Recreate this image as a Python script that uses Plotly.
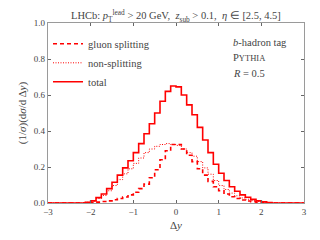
import numpy as np
import plotly.graph_objects as go

# bin edges: 48 bins of width 0.125 from -3 to 3
bin_lo, bin_hi, n_bins = -3.0, 3.0, 48

total = [0, 0, 0, 0, 0, 0, 0, 0.004, 0.012, 0.03, 0.05, 0.08, 0.115, 0.155, 0.195, 0.235,
         0.28, 0.33, 0.385, 0.44, 0.50, 0.565, 0.62, 0.65, 0.645, 0.60, 0.545, 0.49, 0.42, 0.35,
         0.28, 0.215, 0.165, 0.125, 0.09, 0.065, 0.045, 0.032, 0.02, 0.012, 0.006, 0.003,
         0, 0, 0, 0, 0, 0]
gluon = [0, 0, 0, 0, 0, 0, 0, 0, 0.002, 0.005, 0.008, 0.012, 0.018, 0.025, 0.033, 0.045,
         0.06, 0.08, 0.105, 0.14, 0.185, 0.24, 0.29, 0.325, 0.325, 0.30, 0.265, 0.23, 0.19, 0.155,
         0.12, 0.09, 0.068, 0.05, 0.035, 0.025, 0.017, 0.011, 0.007, 0.004, 0.002, 0.001,
         0, 0, 0, 0, 0, 0]
nonsplit = [0, 0, 0, 0, 0, 0, 0, 0.004, 0.01, 0.025, 0.042, 0.068, 0.097, 0.13, 0.162, 0.19,
            0.22, 0.25, 0.28, 0.30, 0.315, 0.325, 0.33, 0.325, 0.32, 0.30, 0.28, 0.26, 0.23, 0.195,
            0.16, 0.125, 0.097, 0.075, 0.055, 0.04, 0.028, 0.021, 0.013, 0.008, 0.004, 0.002,
            0, 0, 0, 0, 0, 0]

x_ticks = [-3, -2, -1, 0, 1, 2, 3]
x_tick_text = ["\u22123", "\u22122", "\u22121", "0", "1", "2", "3"]
y_ticks = [0.0, 0.2, 0.4, 0.6, 0.8, 1.0]
y_tick_text = ["0.0", "0.2", "0.4", "0.6", "0.8", "1.0"]

edges = np.linspace(bin_lo, bin_hi, n_bins + 1)

def steps(vals):
    return list(vals) + [vals[-1]]

RED = "#ff0000"
FONT = "Liberation Serif"
GRAY = "#9a9a9a"
TXT = "#444"

fig = go.Figure()
fig.add_trace(go.Scatter(x=edges, y=steps(gluon), mode="lines", line_shape="hv",
                         line=dict(color=RED, width=1.6, dash="4px,3px"), name="gluon splitting"))
fig.add_trace(go.Scatter(x=edges, y=steps(nonsplit), mode="lines", line_shape="hv",
                         line=dict(color=RED, width=1.0, dash="1px,1.5px"), name="non-splitting"))
fig.add_trace(go.Scatter(x=edges, y=steps(total), mode="lines", line_shape="hv",
                         line=dict(color=RED, width=1.6), name="total"))

axis_common = dict(showline=True, linecolor=GRAY, linewidth=1.2, mirror="ticks",
                   ticks="inside", ticklen=3, tickcolor="#666", showgrid=False, zeroline=False,
                   automargin=False,
                   tickfont=dict(family=FONT, size=9, color=TXT))

fig.update_xaxes(range=[-3, 3], tickvals=x_ticks, ticktext=x_tick_text,
                 title=dict(text="\u0394<i>y</i>", font=dict(family=FONT, size=11, color=TXT),
                            standoff=5), **axis_common)
fig.update_yaxes(range=[0, 1.0], tickvals=y_ticks, ticktext=y_tick_text,
                 title=dict(text="(1/<i>\u03c3</i>)(d<i>\u03c3</i>/d\u2009\u0394<i>y</i>)",
                            font=dict(family=FONT, size=11, color=TXT), standoff=4),
                 **axis_common)

fig.update_layout(
    width=320, height=240,
    margin=dict(l=40, r=24, t=15, b=45, autoexpand=False),
    paper_bgcolor="white", plot_bgcolor="white",
    showlegend=True,
    legend=dict(x=0.0, y=0.965, xanchor="left", yanchor="top", bgcolor="rgba(0,0,0,0)",
                font=dict(family=FONT, size=10.5, color=TXT), itemwidth=30,
                tracegroupgap=0),
    font=dict(family=FONT, color=TXT),
    annotations=[
        dict(text="LHCb: <i>p</i><sub>T</sub><sup>lead</sup> > 20 GeV,  <i>z</i><sub>sub</sub> > 0.1,  <i>\u03b7</i> \u2208 [2.5, 4.5]",
             xref="paper", yref="paper", x=0.5, y=1.0, xanchor="center", yanchor="bottom",
             yshift=-3, showarrow=False, font=dict(family=FONT, size=10.5, color=TXT)),
        dict(text="<i>b</i>-hadron tag", xref="paper", yref="paper", x=0.715, y=0.894,
             xanchor="left", yanchor="middle", showarrow=False,
             font=dict(family=FONT, size=10.5, color=TXT)),
        dict(text="P<span style='font-size:8.5px'>YTHIA</span>", xref="paper", yref="paper",
             x=0.715, y=0.806, xanchor="left", yanchor="middle", showarrow=False,
             font=dict(family=FONT, size=10.5, color=TXT)),
        dict(text="<i>R</i> = 0.5", xref="paper", yref="paper", x=0.715, y=0.717,
             xanchor="left", yanchor="middle", showarrow=False,
             font=dict(family=FONT, size=10.5, color=TXT)),
    ],
)

fig.write_html("out.html")
